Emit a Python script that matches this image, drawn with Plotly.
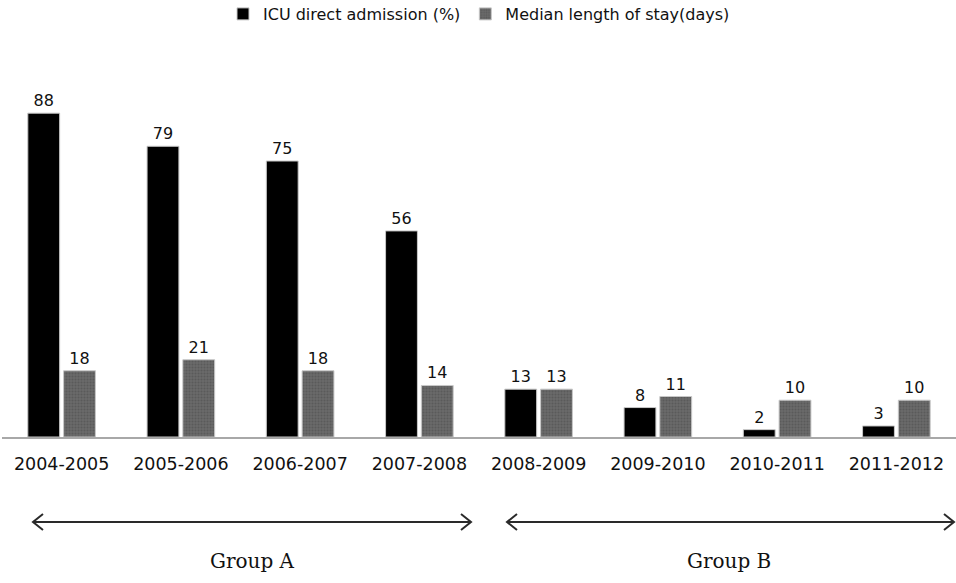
import plotly.graph_objects as go

periods = ["2004-2005", "2005-2006", "2006-2007", "2007-2008",
           "2008-2009", "2009-2010", "2010-2011", "2011-2012"]
icu_direct = [88, 79, 75, 56, 13, 8, 2, 3]
median_los = [18, 21, 18, 14, 13, 11, 10, 10]
group_labels = ["Group A", "Group B"]

font_main = "DejaVu Sans"

fig = go.Figure()
fig.add_trace(go.Bar(
    x=periods, y=icu_direct, name="ICU direct admission (%)",
    marker=dict(color="#000000", line=dict(color="#c8c8c8", width=1)),
    text=icu_direct, textposition="outside", cliponaxis=False,
    textfont=dict(family=font_main, size=16, color="#111111"),
))
fig.add_trace(go.Bar(
    x=periods, y=median_los, name="Median length of stay(days)",
    marker=dict(color="#5e5e5e", line=dict(color="#c8c8c8", width=1),
                pattern=dict(shape=".", fgcolor="#4a4a4a", bgcolor="#6a6a6a", size=3, solidity=0.4)),
    text=median_los, textposition="outside", cliponaxis=False,
    textfont=dict(family=font_main, size=16, color="#111111"),
))

# pixel -> paper helpers (plot area: x 2..956, y 69..437)
L, R, T, B = 2, 956, 69, 437
def px(X):
    return (X - L) / (R - L)
def py(Y):
    return (B - Y) / (B - T)

shapes = []
arrow_y = 522
for x0, x1 in [(33, 471), (507, 954)]:
    shapes.append(dict(type="line", xref="paper", yref="paper",
                       x0=px(x0), x1=px(x1), y0=py(arrow_y), y1=py(arrow_y),
                       line=dict(color="#2a2a2a", width=2)))
    shapes.append(dict(type="path", xref="paper", yref="paper",
                       path=f"M {px(x0+10)} {py(arrow_y-8)} L {px(x0)} {py(arrow_y)} L {px(x0+10)} {py(arrow_y+8)}",
                       line=dict(color="#2a2a2a", width=2)))
    shapes.append(dict(type="path", xref="paper", yref="paper",
                       path=f"M {px(x1-10)} {py(arrow_y-8)} L {px(x1)} {py(arrow_y)} L {px(x1-10)} {py(arrow_y+8)}",
                       line=dict(color="#2a2a2a", width=2)))

annotations = []
for lbl, X in zip(group_labels, [252, 729]):
    annotations.append(dict(text=lbl, xref="paper", yref="paper", x=px(X), y=py(561),
                            showarrow=False, xanchor="center", yanchor="middle",
                            font=dict(family="DejaVu Serif", size=20, color="#111111")))

fig.update_layout(
    width=956, height=583,
    margin=dict(l=L, r=956 - R, t=T, b=583 - B, autoexpand=False),
    paper_bgcolor="white", plot_bgcolor="white",
    barmode="group", bargap=0.4, bargroupgap=0.11,
    showlegend=True,
    legend=dict(orientation="h", x=0.5, xanchor="center", y=py(-3), yanchor="top",
                font=dict(family=font_main, size=16, color="#111111"),
                itemwidth=30, traceorder="normal"),
    shapes=shapes, annotations=annotations,
    xaxis=dict(showline=True, linecolor="#a8a8a8", linewidth=1.5, showgrid=False,
               automargin=False,
               ticks="outside", ticklen=10, tickcolor="rgba(0,0,0,0)",
               tickfont=dict(family=font_main, size=17.5, color="#111111")),
    yaxis=dict(range=[0, 100], visible=False, showgrid=False, zeroline=False,
               automargin=False),
)

fig.write_html("out.html", config={"displayModeBar": False},
               post_script="document.body.style.margin='0';document.body.style.overflow='hidden';")
